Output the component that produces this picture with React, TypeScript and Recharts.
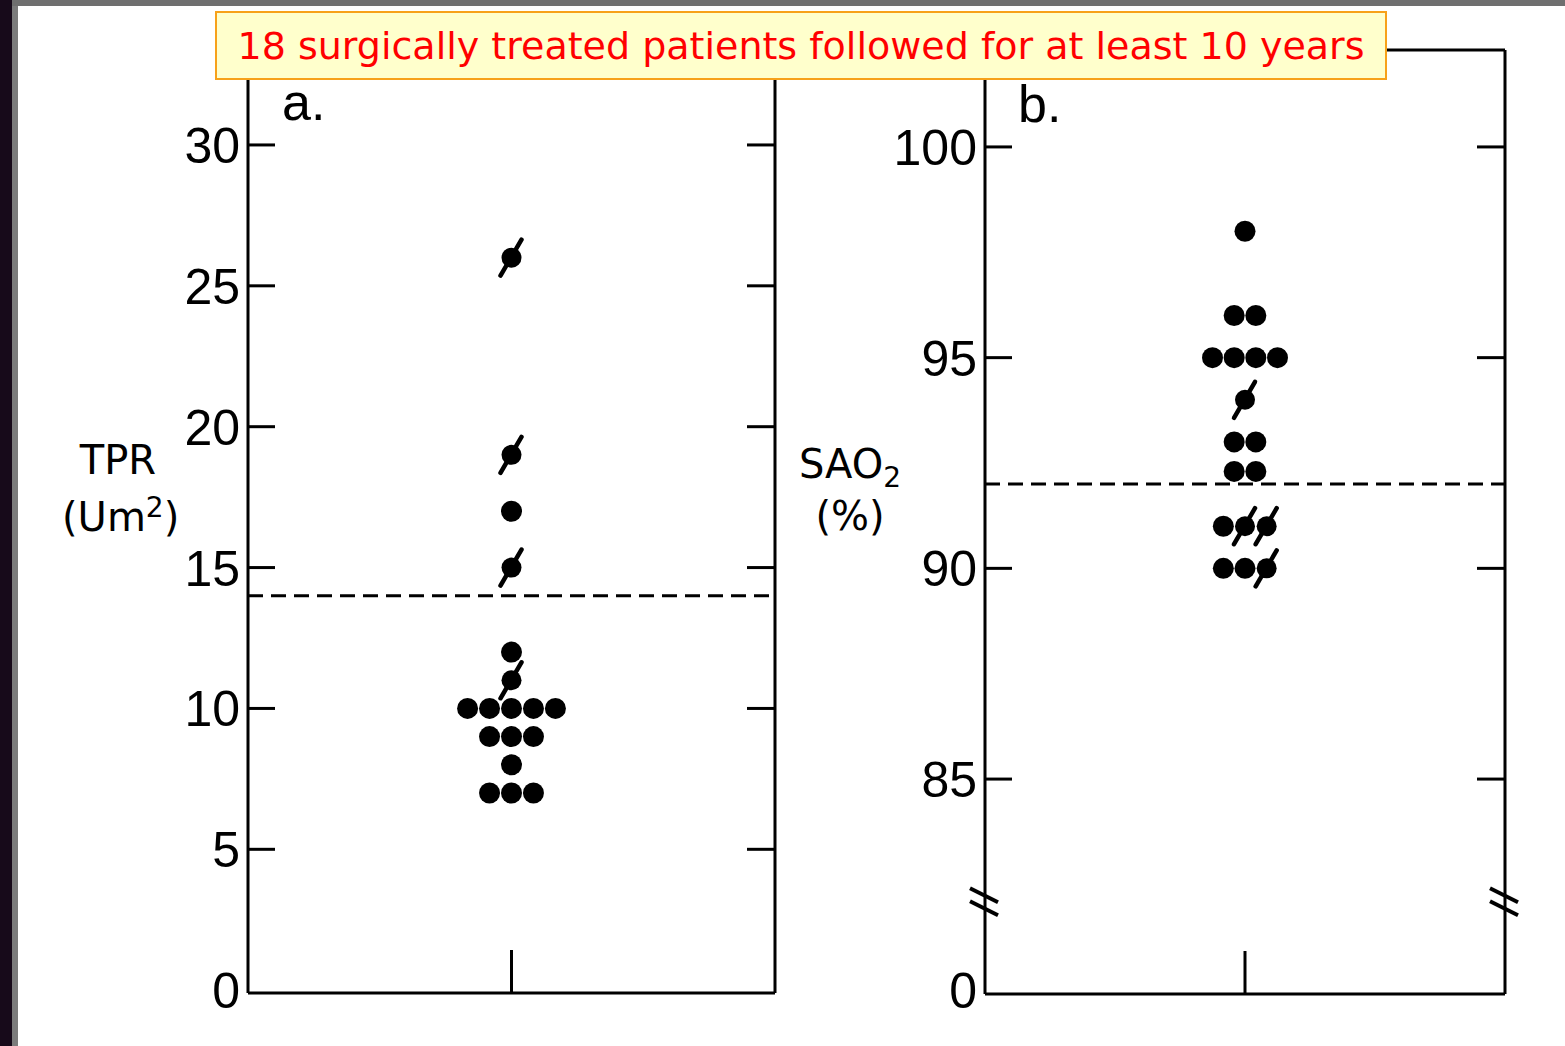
import { ScatterChart, Scatter, XAxis, YAxis, ReferenceLine } from "recharts"

// panel a: TPR (Um2)
const tprValues = [26, 19, 17, 15, 12, 11, 10, 10, 10, 10, 10, 9, 9, 9, 8, 7, 7, 7]
const tprOffsets = [0, 0, 0, 0, 0, 0, -2, -1, 0, 1, 2, -1, 0, 1, 0, -1, 0, 1]
const tprSlashed = [1, 1, 0, 1, 0, 1, 0, 0, 0, 0, 0, 0, 0, 0, 0, 0, 0, 0]
const tprTicks = [0, 5, 10, 15, 20, 25, 30]
const tprRightTicks = [5, 10, 15, 20, 25, 30]
const tprLimit = 14

// panel b: SAO2 (%) - axis broken below 85, bottom tick stands for 0
const saoValues = [98, 96, 96, 95, 95, 95, 95, 94, 93, 93, 92.3, 92.3, 91, 91, 91, 90, 90, 90]
const saoOffsets = [0, -0.5, 0.5, -1.5, -0.5, 0.5, 1.5, 0, -0.5, 0.5, -0.5, 0.5, -1, 0, 1, -1, 0, 1]
const saoSlashed = [0, 0, 0, 0, 0, 0, 0, 1, 0, 0, 0, 0, 0, 1, 1, 0, 0, 1]
const saoTicks = [80, 85, 90, 95, 100]
const saoTickLabels = ["0", "85", "90", "95", "100"]
const saoRightTicks = [85, 90, 95, 100]
const saoBreak = 82.1
const saoLimit = 92

const tprData = tprValues.map((v, i) => ({ x: tprOffsets[i], y: v, slashed: tprSlashed[i] === 1 }))
const saoData = saoValues.map((v, i) => ({ x: saoOffsets[i], y: v, slashed: saoSlashed[i] === 1 }))

const INK = "#000"
const TICK_FONT = "'Liberation Sans', Arial, sans-serif"

function Dot(props: any) {
  const { cx, cy, payload } = props
  if (cx == null || cy == null) return null
  if (payload.slashed) {
    return (
      <g>
        <circle cx={cx} cy={cy} r={10} fill={INK} />
        <line x1={cx - 11} y1={cy + 18} x2={cx + 10} y2={cy - 18} stroke={INK} strokeWidth={4.5} strokeLinecap="round" />
      </g>
    )
  }
  return <circle cx={cx} cy={cy} r={10.5} fill={INK} />
}

function BreakMark({ x, y }: { x: number; y: number }) {
  return (
    <g stroke={INK} strokeWidth={4}>
      <line x1={x - 15} y1={y - 13} x2={x + 13} y2={y + 1} />
      <line x1={x - 15} y1={y} x2={x + 13} y2={y + 14} />
    </g>
  )
}

function makeLeftTick(labels?: string[], values?: number[]) {
  return (props: any) => {
    const { x, y, payload } = props
    const v = payload.value
    if (v === saoBreak) return <BreakMark x={x} y={y} />
    let label = String(v)
    if (labels && values) label = labels[values.indexOf(v)]
    const isBottom = v === 0 || v === 80
    return (
      <g>
        {!isBottom && <line x1={x} y1={y} x2={x + 27} y2={y} stroke={INK} strokeWidth={3} />}
        <text x={x - 8} y={y} dy="0.36em" textAnchor="end" fontFamily={TICK_FONT} fontSize={50} fill={INK}>
          {label}
        </text>
      </g>
    )
  }
}

function RightTick(props: any) {
  const { x, y, payload } = props
  if (payload.value === saoBreak) return <BreakMark x={x} y={y} />
  return <line x1={x} y1={y} x2={x - 28} y2={y} stroke={INK} strokeWidth={3} />
}

function BottomTick(props: any) {
  const { x, y } = props
  return <line x1={x} y1={y} x2={x} y2={y - 43} stroke={INK} strokeWidth={3} />
}

const axisLine = { stroke: INK, strokeWidth: 3 }

function Panel(props: {
  data: any[]
  domain: [number, number]
  ticks: number[]
  rightTicks: number[]
  leftTick: any
  limit: number
  width: number
  margin: any
}) {
  const { data, domain, ticks, rightTicks, leftTick, limit, width, margin } = props
  return (
    <ScatterChart width={width} height={1046} margin={margin}>
      <XAxis xAxisId="b" type="number" dataKey="x" domain={[-12, 12]} ticks={[0]} interval={0}
        tickSize={0} tickMargin={0} height={10} axisLine={axisLine} tick={BottomTick} />
      <XAxis xAxisId="t" orientation="top" type="number" dataKey="x" domain={[-12, 12]} height={10}
        tick={false} tickLine={false} axisLine={axisLine} />
      <YAxis yAxisId="l" type="number" dataKey="y" domain={domain} ticks={ticks} interval={0}
        allowDataOverflow tickSize={0} tickMargin={0} width={60} axisLine={axisLine} tick={leftTick} />
      <YAxis yAxisId="r" orientation="right" type="number" dataKey="y" domain={domain} ticks={rightTicks}
        interval={0} allowDataOverflow tickSize={0} tickMargin={0} width={10} axisLine={axisLine} tick={RightTick} />
      <ReferenceLine xAxisId="b" yAxisId="l" y={limit} stroke={INK} strokeWidth={3} strokeDasharray="15 8" />
      <Scatter xAxisId="b" yAxisId="l" data={data} shape={Dot} isAnimationActive={false} />
    </ScatterChart>
  )
}

const sideLabel: React.CSSProperties = {
  position: "absolute",
  fontFamily: "'DejaVu Sans', sans-serif",
  fontSize: 40,
  color: INK,
  lineHeight: 1,
  textAlign: "center",
}

export default function App() {
  return (
    <div style={{ position: "absolute", left: 0, top: 0, width: 1565, height: 1046, background: "#fff", overflow: "hidden" }}>
      <div style={{ position: "absolute", left: 0, top: 0 }}>
        <Panel data={tprData} domain={[-0.1, 33.37]} ticks={tprTicks} rightTicks={tprRightTicks}
          leftTick={makeLeftTick()} limit={tprLimit} width={800}
          margin={{ top: 40, right: 15, bottom: 43, left: 188 }} />
      </div>
      <div style={{ position: "absolute", left: 800, top: 0 }}>
        <Panel data={saoData} domain={[79.9, 102.3]} ticks={[...saoTicks, saoBreak]}
          rightTicks={[...saoRightTicks, saoBreak]} leftTick={makeLeftTick(saoTickLabels, saoTicks)}
          limit={saoLimit} width={765} margin={{ top: 40, right: 50, bottom: 42, left: 125 }} />
      </div>

      {/* panel letters and axis titles */}
      <div style={{ position: "absolute", left: 282, top: 72, fontFamily: TICK_FONT, fontSize: 52 }}>a.</div>
      <div style={{ position: "absolute", left: 1018, top: 74, fontFamily: TICK_FONT, fontSize: 52 }}>b.</div>
      <div style={{ ...sideLabel, left: 62, top: 440, width: 112 }}>
        TPR
        <div style={{ marginTop: 14 }}>(Um<sup style={{ fontSize: 28 }}>2</sup>)</div>
      </div>
      <div style={{ ...sideLabel, left: 798, top: 444, width: 104 }}>
        SAO<sub style={{ fontSize: 28 }}>2</sub>
        <div style={{ marginTop: 4 }}>(%)</div>
      </div>

      {/* page frame */}
      <div style={{ position: "absolute", left: 0, top: 0, width: 12, height: 1046, background: "#170a1a" }} />
      <div style={{ position: "absolute", left: 12, top: 0, width: 6, height: 1046, background: "#7c7c7c" }} />
      <div style={{ position: "absolute", left: 12, top: 0, width: 1553, height: 6, background: "#6f6f6f" }} />

      {/* title box */}
      <div
        style={{
          position: "absolute",
          left: 215,
          top: 11,
          width: 1168,
          height: 65,
          background: "#ffffcc",
          border: "2px solid #f7a11a",
          color: "#ff0000",
          fontFamily: "'DejaVu Sans', sans-serif",
          fontSize: 38,
          lineHeight: "66px",
          textAlign: "center",
          whiteSpace: "nowrap",
        }}
      >
        18 surgically treated patients followed for at least 10 years
      </div>
    </div>
  )
}
